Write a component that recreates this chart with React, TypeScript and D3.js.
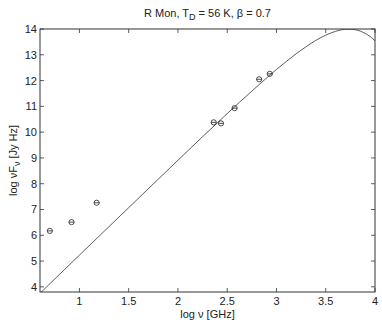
import React from 'react';
import * as d3 from 'd3';

// greybody model curve
const curveLogNu = [0.6, 1.0, 1.5, 2.0, 2.5, 2.75, 3.0, 3.1, 3.2, 3.3, 3.4, 3.5, 3.6, 3.65, 3.7, 3.75, 3.8, 3.85, 3.9, 3.95, 4.0];
const curveLogF = [3.75, 5.23, 7.07, 8.91, 10.72, 11.59, 12.43, 12.74, 13.04, 13.31, 13.56, 13.76, 13.91, 13.96, 13.99, 13.99, 13.97, 13.92, 13.83, 13.71, 13.54];

// observed fluxes
const obsLogNu = [0.70, 0.92, 1.175, 2.363, 2.437, 2.575, 2.824, 2.932];
const obsLogF = [6.17, 6.51, 7.26, 10.38, 10.34, 10.93, 12.05, 12.26];

const xTicks = [1, 1.5, 2, 2.5, 3, 3.5, 4];
const yTicks = [4, 5, 6, 7, 8, 9, 10, 11, 12, 13, 14];

const W = 382;
const H = 322;
const m = { left: 40, right: 7, top: 29, bottom: 30 };
const font = '"Liberation Sans", Arial, sans-serif';

export default function App() {
  const x = d3.scaleLinear().domain([0.6, 4]).range([m.left, W - m.right]);
  const y = d3.scaleLinear().domain([3.8, 14]).range([H - m.bottom, m.top]);

  const line = d3.line<number>()
    .x((_, i) => x(curveLogNu[i]))
    .y(d => y(d))
    .curve(d3.curveMonotoneX);

  const x0 = x.range()[0], x1 = x.range()[1];
  const y0 = y.range()[0], y1 = y.range()[1];
  const tl = 4;

  return (
    <svg width={W} height={H} style={{ position: 'absolute', left: 0, top: 0, background: '#fff' }}
      fontFamily={font} fontSize={11}>
      <defs>
        <clipPath id="plot">
          <rect x={x0} y={y1} width={x1 - x0} height={y0 - y1} />
        </clipPath>
      </defs>
      <text x={(x0 + x1) / 2} y={17} textAnchor="middle" fill="#222">
        R Mon, T<tspan dy={3} fontSize={9}>D</tspan><tspan dy={-3}> = 56 K, β = 0.7</tspan>
      </text>

      <path d={line(curveLogF) || ''} fill="none" stroke="#333" strokeWidth={0.8} clipPath="url(#plot)" />

      {obsLogNu.map((v, i) => (
        <g key={i} stroke="#222" strokeWidth={0.8} fill="none">
          <circle cx={x(v)} cy={y(obsLogF[i])} r={2.6} />
          <line x1={x(v) - 2.6} x2={x(v) + 2.6} y1={y(obsLogF[i])} y2={y(obsLogF[i])} />
        </g>
      ))}

      <rect x={x0} y={y1} width={x1 - x0} height={y0 - y1} fill="none" stroke="#333" strokeWidth={1} />

      {xTicks.map(t => (
        <g key={t} stroke="#333" strokeWidth={0.8}>
          <line x1={x(t)} x2={x(t)} y1={y0} y2={y0 - tl} />
          <line x1={x(t)} x2={x(t)} y1={y1} y2={y1 + tl} />
          <text x={x(t)} y={y0 + 13} textAnchor="middle" stroke="none" fill="#222">{t}</text>
        </g>
      ))}
      {yTicks.map(t => (
        <g key={t} stroke="#333" strokeWidth={0.8}>
          <line x1={x0} x2={x0 + tl} y1={y(t)} y2={y(t)} />
          <line x1={x1} x2={x1 - tl} y1={y(t)} y2={y(t)} />
          <text x={x0 - 3} y={y(t) + 4} textAnchor="end" stroke="none" fill="#222">{t}</text>
        </g>
      ))}

      <text x={(x0 + x1) / 2} y={318} textAnchor="middle" fill="#222">log ν [GHz]</text>
      <text transform={`translate(17,${(y0 + y1) / 2}) rotate(-90)`} textAnchor="middle" fill="#222">
        log νF<tspan dy={3} fontSize={9}>ν</tspan><tspan dy={-3}> [Jy Hz]</tspan>
      </text>
    </svg>
  );
}
